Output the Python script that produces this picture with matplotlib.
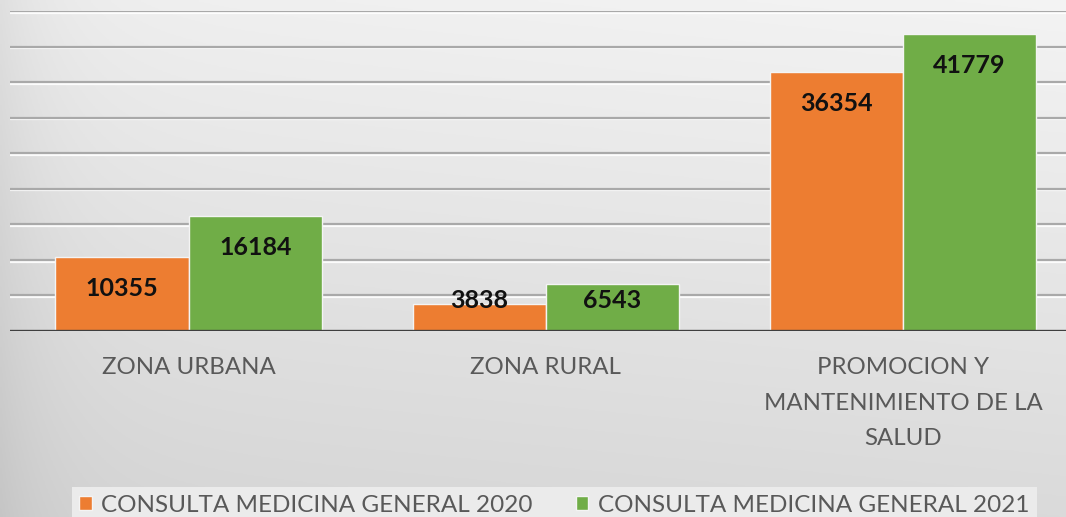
import numpy as np
import matplotlib
matplotlib.use("Agg")
import matplotlib.pyplot as plt
import matplotlib.patheffects as pe

categories = ["ZONA URBANA", "ZONA RURAL", "PROMOCION Y\nMANTENIMIENTO DE LA\nSALUD"]
series_names = ["CONSULTA MEDICINA GENERAL 2020", "CONSULTA MEDICINA GENERAL 2021"]
values_2020 = [10355, 3838, 36354]
values_2021 = [16184, 6543, 41779]
colors = ["#ED7D31", "#70AD47"]

plt.rcParams["font.family"] = ["Lato", "DejaVu Sans"]

fig = plt.figure(figsize=(10.66, 5.17), dpi=100)

# gray gradient background (lighter top right, darker left / bottom)
bg_ax = fig.add_axes([0, 0, 1, 1], zorder=-10)
yy, xx = np.mgrid[0:1:200j, 0:1:400j]
shade = 0.955 - 0.10 * yy - 0.06 * np.exp(-xx / 0.05) - 0.02 * (1 - xx)
bg_ax.imshow(np.dstack([shade] * 3), aspect="auto", extent=[0, 1, 0, 1])
bg_ax.axis("off")
fig.patch.set_facecolor("#e0e0e0")

ax = fig.add_axes([10 / 1066, 1 - 331 / 517, 1056 / 1066, 320 / 517])
ax.set_facecolor("none")

x = np.arange(len(categories))
w = 0.373
ax.set_xlim(-0.5, 2.5 - 15.5 / 357)
ax.set_ylim(0, 45000)

shadow = [pe.SimpleLineShadow(offset=(0, -1.2), shadow_color="white", alpha=0.9), pe.Normal()]
for g in range(5000, 45001, 5000):
    ax.axhline(g, color="#a9a9a9", lw=1.6, zorder=1, path_effects=shadow)

bars1 = ax.bar(x - w / 2, values_2020, w, color=colors[0], edgecolor="#f4f4f4", lw=1,
               label=series_names[0], zorder=3)
bars2 = ax.bar(x + w / 2, values_2021, w, color=colors[1], edgecolor="#f4f4f4", lw=1,
               label=series_names[1], zorder=3)

ax.axhline(0, color="#3f3f3f", lw=2.4, zorder=4)

for bars, vals in [(bars1, values_2020), (bars2, values_2021)]:
    for b, v in zip(bars, vals):
        ypos = max(v - 4400, 4300)
        ax.text(b.get_x() + b.get_width() / 2, ypos, str(v), ha="center", va="center",
                fontsize=18, fontweight="bold", color="#111111", zorder=5)

for s in ax.spines.values():
    s.set_visible(False)
ax.set_yticks([])
ax.set_xticks(x)
ax.set_xticklabels(categories, fontsize=17.3, color="#595959", linespacing=1.85)
ax.tick_params(axis="x", length=0, pad=19)

leg = fig.legend(loc="center left", bbox_to_anchor=(60 / 1066, 1 - 505 / 517), ncol=2,
                 frameon=True, fontsize=17.5, handlelength=0.5, handleheight=0.5,
                 handletextpad=0.4, columnspacing=1.77, borderpad=0.3, fancybox=False)
leg.get_frame().set_facecolor("#ebebeb")
leg.get_frame().set_edgecolor("none")
leg.get_frame().set_alpha(1)
for t in leg.get_texts():
    t.set_color("#595959")

fig.savefig("out.png", dpi=100)
